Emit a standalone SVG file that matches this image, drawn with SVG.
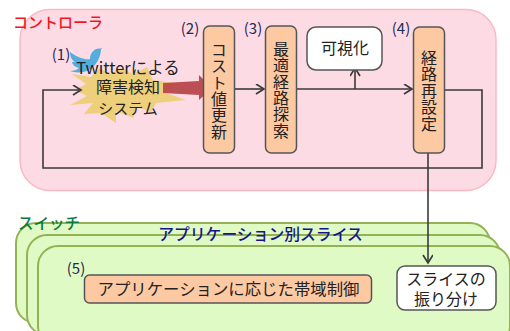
<svg xmlns="http://www.w3.org/2000/svg" width="510" height="331" viewBox="0 0 510 331">
<style>
text{font-family:"Noto Sans CJK JP","Liberation Sans",sans-serif;fill:#222;text-anchor:middle}
.sw{fill:#dffac4;stroke:#94b254;stroke-width:2}
.box{fill:#fdc9a2;stroke:#555;stroke-width:1.5}
.wb{fill:#fff;stroke:#555;stroke-width:1.5}
.ln{fill:none;stroke:#3a3a3a;stroke-width:1.6}
.t{font-size:16px}
.v{font-size:16px;writing-mode:vertical-rl;letter-spacing:.4px}
.n{font-size:15px;fill:#1f2a55}
</style>
<defs>
<marker id="a" markerWidth="12" markerHeight="12" refX="9" refY="5" orient="auto" markerUnits="userSpaceOnUse"><path d="M1 0L9 5L1 10" fill="none" stroke="#3a3a3a" stroke-width="1.7"/></marker>
</defs>
<g id="controller">
<rect x="20" y="9.500" width="476" height="181" rx="30" fill="#fddbe5" stroke="#fbb9c6" stroke-width="1.500"/>
<text x="58" y="28" style="font-size:15px;fill:#f5141e;font-weight:500">コントローラ</text>
</g>
<g id="switches">
<rect class="sw" x="16" y="223" width="474" height="100" rx="20"/>
<rect class="sw" x="27" y="235" width="473" height="100" rx="20"/>
<rect class="sw" x="38" y="246" width="472" height="100" rx="20"/>
<text x="49" y="229" style="font-size:15.500px;fill:#0a7a3c;font-weight:500">スイッチ</text>
<text x="260.500" y="240" style="font-size:15.800px;fill:#14148c;font-weight:500">アプリケーション別スライス</text>
</g>
<g id="twitter">
<path d="M70 52C78 58 86 60 90 59C90 52 96 47 102 49L102 47L101 50C100 60 94 70 83 72C78 73 73 72 70 71C74 71 77 70 79 68C75 67 72 64 72 62C73 62 74 62 75 62C71 60 70 55 70 52Z" fill="#55acde"/>
</g>
<g id="detector">
<polygon points="72,74 91,77 100,68 109,74 122,68 133,74 147,67 153,80 180,84 163,92 186,100 156,103 151,112 137,107 133,118 116,111 116,123 101,113 84,114 93,103 70,105 87,96 75,90 86,84" fill="#edcf7c"/>
<text><tspan x="128" y="74" style="font-size:16.500px">Twitterによる</tspan><tspan x="128" y="93" style="font-size:16px">障害検知</tspan><tspan x="128" y="114" style="font-size:15px">システム</tspan></text>
<text x="61" y="60" class="n">(1)</text>
</g>
<g id="connectors">
<path class="ln" d="M445 90H482V168H43V90H81" marker-end="url(#a)"/>
<path class="ln" d="M235 89H264" marker-end="url(#a)"/>
<path class="ln" d="M296 89H412" marker-end="url(#a)"/>
<path class="ln" d="M355 89V68" marker-end="url(#a)"/>
<path class="ln" d="M428 153V263" marker-end="url(#a)"/>
</g>
<g id="redarrow">
<polygon points="163,83 199,81 199,75 212,88 199,100 199,95 163,93" fill="#b53f42" fill-opacity=".9"/>
</g>
<g id="n2">
<rect class="box" x="203.500" y="26" width="31" height="127" rx="6"/>
<text x="219" y="91" class="v">コスト値更新</text>
<text x="190" y="34" class="n">(2)</text>
</g>
<g id="n3">
<rect class="box" x="265.500" y="26" width="31" height="127" rx="6"/>
<text x="281" y="90" class="v">最適経路探索</text>
<text x="253" y="34" class="n">(3)</text>
</g>
<g id="viz">
<rect class="wb" x="307" y="27" width="75" height="43" rx="9"/>
<text x="345" y="54" class="t">可視化</text>
</g>
<g id="n4">
<rect class="box" x="413.500" y="27" width="31" height="126" rx="6"/>
<text x="429" y="91" class="v">経路再設定</text>
<text x="401" y="34" class="n">(4)</text>
</g>
<g id="n5">
<rect class="box" x="84.500" y="275" width="287" height="28" rx="5"/>
<text x="228.500" y="295" style="font-size:16.400px">アプリケーションに応じた帯域制御</text>
<text x="76" y="274" class="n">(5)</text>
</g>
<g id="slice">
<rect class="wb" x="397" y="266" width="99" height="44" rx="8"/>
<text class="t"><tspan x="446" y="285">スライスの</tspan><tspan x="446" y="305">振り分け</tspan></text>
</g>
</svg>
